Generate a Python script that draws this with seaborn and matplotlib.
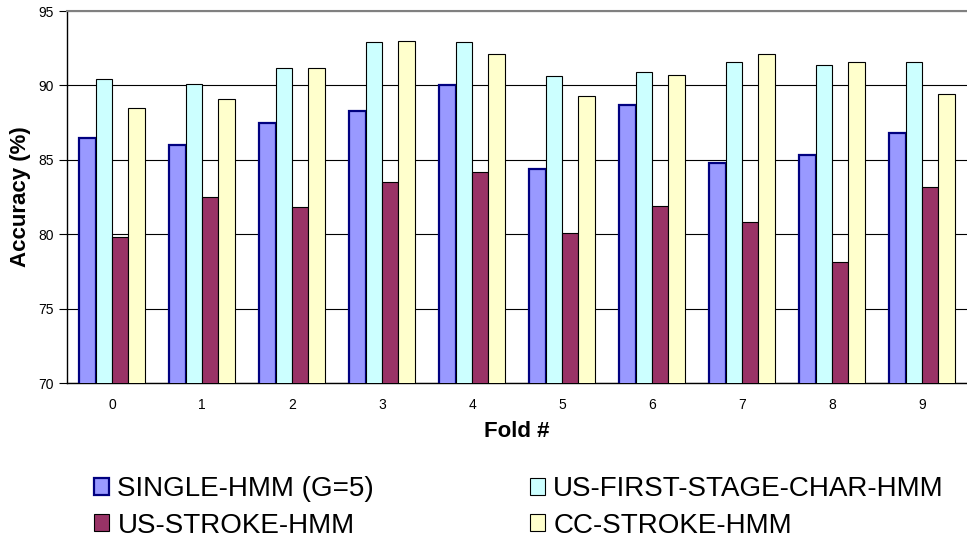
import pandas as pd
import matplotlib.pyplot as plt
import seaborn as sns
from matplotlib.ticker import MultipleLocator

folds = [0, 1, 2, 3, 4, 5, 6, 7, 8, 9]
series_names = ['SINGLE-HMM (G=5)', 'US-FIRST-STAGE-CHAR-HMM',
                'US-STROKE-HMM', 'CC-STROKE-HMM']
single_hmm = [86.5, 86.0, 87.5, 88.3, 90.0, 84.4, 88.7, 84.8, 85.3, 86.8]
us_first_stage = [90.4, 90.1, 91.2, 92.9, 92.9, 90.6, 90.9, 91.6, 91.4, 91.6]
us_stroke = [79.8, 82.5, 81.8, 83.5, 84.2, 80.1, 81.9, 80.8, 78.1, 83.2]
cc_stroke = [88.5, 89.1, 91.2, 93.0, 92.1, 89.3, 90.7, 92.1, 91.6, 89.4]

colors = ['#9999FF', '#CCFFFF', '#993366', '#FFFFCC']
edge_colors = ['#000080', 'black', 'black', 'black']
edge_widths = [1.6, 0.8, 0.8, 0.8]


def build_frame():
    rows = []
    for name, vals in zip(series_names, [single_hmm, us_first_stage, us_stroke, cc_stroke]):
        for f, v in zip(folds, vals):
            rows.append({'fold': str(f), 'series': name, 'accuracy': v})
    return pd.DataFrame(rows)


sns.set_style('white')
plt.rcParams['font.family'] = ['Liberation Sans', 'DejaVu Sans']
plt.rcParams['text.color'] = 'black'
plt.rcParams['axes.labelcolor'] = 'black'
plt.rcParams['xtick.color'] = 'black'
plt.rcParams['ytick.color'] = 'black'

df = build_frame()
fig = plt.figure(figsize=(9.67, 5.46), dpi=100)
ax = fig.add_axes([0.0693, 0.2985, 0.9307, 0.6813])

sns.barplot(data=df, x='fold', y='accuracy', hue='series', hue_order=series_names,
            palette=dict(zip(series_names, colors)), width=0.73, saturation=1,
            ax=ax, legend=False, zorder=3)

for cont, ec, lw in zip(ax.containers, edge_colors, edge_widths):
    for bar in cont:
        bar.set_edgecolor(ec)
        bar.set_linewidth(lw)

ax.set_ylim(70, 95)
ax.set_xlim(-0.5, 9.5)
ax.yaxis.set_major_locator(MultipleLocator(5))
ax.yaxis.grid(True, color='black', linewidth=0.8, zorder=0)
ax.set_axisbelow(True)

# tick marks between categories, labels at centres
ax.set_xticks(range(len(folds)))
ax.set_xticklabels([str(f) for f in folds])
ax.set_xticks([i + 0.5 for i in range(len(folds) - 1)], minor=True)
ax.tick_params(axis='x', which='major', length=0, labelsize=10, pad=11)
ax.tick_params(axis='x', which='minor', length=5, direction='out', color='black')
ax.tick_params(axis='y', which='major', length=6, direction='out', labelsize=10,
               color='black', left=True)

for side in ['left', 'bottom']:
    ax.spines[side].set_color('black')
    ax.spines[side].set_linewidth(1.0)
ax.spines['right'].set_visible(False)
ax.spines['top'].set_color('#808080')
ax.spines['top'].set_linewidth(1.5)

ax.set_xlabel('Fold #', fontsize=16, fontweight='bold', labelpad=6)
ax.set_ylabel('Accuracy (%)', fontsize=16, fontweight='bold', labelpad=5)

handles = [plt.Rectangle((0, 0), 1, 1, facecolor=c, edgecolor=ec, linewidth=lw)
           for c, ec, lw in zip(colors, edge_colors, edge_widths)]
order = [0, 2, 1, 3]
fig.legend([handles[i] for i in order], [series_names[i] for i in order],
           loc='upper left', bbox_to_anchor=(0.097, 0.128), ncol=2, frameon=False,
           fontsize=20, handlelength=0.55, handleheight=0.55, handletextpad=0.3,
           columnspacing=5.6, labelspacing=0.38, borderpad=0, borderaxespad=0)

fig.savefig('out.png', dpi=100)
plt.close(fig)
